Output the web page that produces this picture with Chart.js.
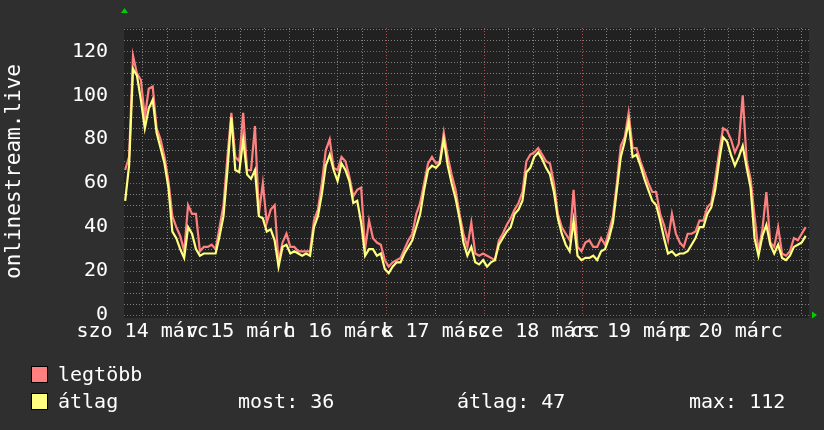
<!DOCTYPE html>
<html><head><meta charset="utf-8">
<script src="https://cdn.jsdelivr.net/npm/chart.js@4/dist/chart.umd.min.js"></script>
<style>html,body{margin:0;padding:0;background:#2f2f2f;overflow:hidden}</style>
</head><body>
<canvas id="c" width="824" height="430"></canvas>
<script>
// ---- data ----
// day labels, placed at noon of each day (minutes since 14 márc 00:00)
const dayLabels = ['szo 14 márc','v 15 márc','h 16 márc','k 17 márc','sze 18 márc','cs 19 márc','p 20 márc'];
const dayLabelMinutes = [720, 2160, 3600, 5040, 6480, 7920, 9360];
const yTickLabels = [0, 20, 40, 60, 80, 100, 120];
const yGridValues = [0,5,10,15,20,25,30,35,40,45,50,55,60,65,70,75,80,85,90,95,100,105,110,115,120,125,130];
const xGridMinutes = [720,1080,1440,1800,2160,2520,2880,3240,3600,3960,4320,4680,5040,5400,5760,6120,6480,6840,7200,7560,7920,8280,8640,9000,9360,9720,10080,10440];
const seriesNames = ['legtöbb', 'átlag'];
const summaryTexts = ['most: 36', 'átlag: 47', 'max: 112'];
const yTitle = 'onlinestream.live';
// sample times: start 07:42 on 14 márc, one sample every 58 minutes
const START_MIN = 462;
const STEP_MIN = 58;
const legtobb = [66,72,118,110,107,90,103,104,85,80,72,61,45,40,36,29,50,46,46,29,31,31,32,30,40,50,72,92,72,70,92,66,66,86,46,60,42,48,50,24,33,37,31,31,29,29,29,29,43,48,60,75,80,67,66,72,70,63,54,57,58,30,43,35,33,32,25,22,24,25,26,30,34,37,46,51,60,69,72,69,70,83,72,64,57,46,37,31,42,28,27,28,27,26,25,34,37,41,44,48,51,56,70,73,74,76,73,70,69,60,46,40,37,34,57,31,29,33,34,31,31,35,32,38,45,60,77,81,92,76,76,70,65,60,56,56,46,41,34,46,37,33,31,37,37,38,43,43,49,51,62,74,85,84,80,74,78,100,70,62,45,29,39,56,33,31,40,28,27,29,35,34,37,40];
const atlag   = [52,68,112,109,98,85,94,98,83,76,69,58,38,35,30,26,40,37,30,27,28,28,28,28,36,45,66,90,66,65,80,64,62,66,45,44,38,39,34,22,31,32,28,29,28,27,28,27,40,45,55,68,73,66,61,69,66,61,51,52,42,27,30,30,27,28,21,19,22,24,24,28,31,34,40,46,57,66,68,67,69,80,68,60,53,44,33,27,31,24,23,25,22,24,25,32,35,38,40,46,48,52,65,67,72,74,71,67,64,56,44,37,32,29,43,27,25,26,26,27,25,29,30,35,42,57,72,79,88,72,73,68,62,57,52,50,43,35,28,29,27,28,28,29,32,35,40,40,46,49,57,70,81,79,73,68,72,77,67,58,35,27,36,41,32,28,32,26,25,27,31,32,33,36];

// ---- styles ----
const FONT = 'DejaVu Sans Mono';
const PINK = '#ff8080';
const YELLOW = '#ffff80';
const MAJOR = '#a85454';
const MINOR = '#808080';

const toPts = arr => arr.map((v, i) => ({x: START_MIN + i * STEP_MIN, y: v}));

const deco = {
  id: 'deco',
  beforeDraw(chart) {
    const {ctx, chartArea: a} = chart;
    ctx.save();
    ctx.fillStyle = '#2f2f2f';
    ctx.fillRect(0, 0, chart.width, chart.height);
    ctx.fillStyle = '#212121';
    ctx.fillRect(a.left, a.top, a.right - a.left, a.bottom - a.top + 3);
    ctx.restore();
  },
  afterDraw(chart) {
    const {ctx, chartArea: a} = chart;
    ctx.save();
    // y title
    ctx.fillStyle = '#ffffff';
    ctx.font = '21px "' + FONT + '"';
    ctx.translate(20, (a.top + a.bottom) / 2);
    ctx.rotate(-Math.PI / 2);
    ctx.textAlign = 'center';
    ctx.textBaseline = 'alphabetic';
    ctx.fillText(yTitle, 0, 0);
    ctx.restore();

    ctx.save();
    // arrows
    ctx.fillStyle = '#00d000';
    ctx.beginPath();
    ctx.moveTo(a.left - 3, 13); ctx.lineTo(a.left + 4, 13); ctx.lineTo(a.left + 0.5, 8); ctx.closePath(); ctx.fill();
    ctx.beginPath();
    ctx.moveTo(a.right + 3, a.bottom - 3.5); ctx.lineTo(a.right + 3, a.bottom + 3.5); ctx.lineTo(a.right + 8, a.bottom); ctx.closePath(); ctx.fill();

    // legend
    const rows = [{c: PINK, y: 366}, {c: YELLOW, y: 393}];
    ctx.font = '20px "' + FONT + '"';
    ctx.textBaseline = 'alphabetic';
    ctx.textAlign = 'left';
    rows.forEach((r, i) => {
      ctx.fillStyle = r.c;
      ctx.fillRect(31.5, r.y + 0.5, 16, 16);
      ctx.strokeStyle = '#000';
      ctx.lineWidth = 1;
      ctx.strokeRect(31.5, r.y + 0.5, 16, 16);
      ctx.fillStyle = '#ffffff';
      ctx.fillText(seriesNames[i], 58, r.y + 14.5);
    });
    const sx = [238, 457, 689];
    summaryTexts.forEach((t, i) => ctx.fillText(t, sx[i], 407.5));
    ctx.restore();
  }
};

new Chart(document.getElementById('c'), {
  type: 'line',
  data: {
    datasets: [
      {label: seriesNames[0], data: toPts(legtobb), borderColor: PINK, borderWidth: 2.2, pointRadius: 0, tension: 0, order: 1},
      {label: seriesNames[1], data: toPts(atlag), borderColor: YELLOW, borderWidth: 2.2, pointRadius: 0, tension: 0, order: 0}
    ]
  },
  options: {
    responsive: false,
    animation: false,
    layout: {padding: {left: 0, top: 15, right: 15, bottom: 75}},
    plugins: {legend: {display: false}, tooltip: {enabled: false}},
    scales: {
      x: {
        type: 'linear',
        min: 445, max: 10545,
        afterBuildTicks: s => { s.ticks = xGridMinutes.map(v => ({value: v})); },
        afterFit: s => { s.height = 40; },
        grid: {color: c => (c.tick && c.tick.value % 1440 === 0) ? MAJOR : MINOR, drawTicks: false, lineWidth: 1},
        border: {display: false, dash: [1, 2]},
        ticks: {
          autoSkip: false, maxRotation: 0, minRotation: 0, padding: 5,
          color: '#ffffff', font: {family: FONT, size: 20},
          callback: v => { const k = dayLabelMinutes.indexOf(v); return k >= 0 ? dayLabels[k] : ''; }
        }
      },
      y: {
        min: 0, max: 130.67,
        afterBuildTicks: s => { s.ticks = yGridValues.map(v => ({value: v})); },
        afterFit: s => { s.width = 124; },
        grid: {color: c => (c.tick && c.tick.value % 20 === 0) ? MAJOR : MINOR, drawTicks: false, lineWidth: 1},
        border: {display: false, dash: [1, 2]},
        ticks: {
          autoSkip: false, padding: 16,
          color: '#ffffff', font: {family: FONT, size: 20},
          callback: v => yTickLabels.includes(v) ? String(v) : ''
        }
      }
    }
  },
  plugins: [deco]
});
</script>
</body></html>
